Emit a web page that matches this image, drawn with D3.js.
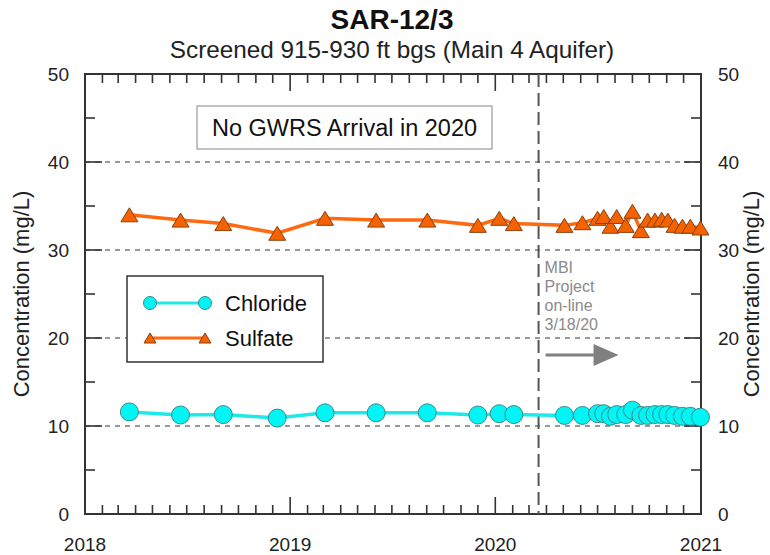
<!DOCTYPE html>
<html>
<head>
<meta charset="utf-8">
<script src="https://cdn.jsdelivr.net/npm/d3@7"></script>
<style>
  body { margin: 0; background: #fff; }
  svg { font-family: "Liberation Sans", Arial, sans-serif; }
</style>
</head>
<body>
<div id="plot"></div>
<script>
// sample dates
const sampleDates = [
  '2018-03-21', '2018-06-20', '2018-09-04', '2018-12-09', '2019-03-04',
  '2019-06-03', '2019-09-02', '2019-12-01', '2020-01-08', '2020-02-03',
  '2020-05-03', '2020-06-04', '2020-07-01', '2020-07-12', '2020-07-24',
  '2020-08-04', '2020-08-20', '2020-09-01', '2020-09-16', '2020-09-28',
  '2020-10-11', '2020-10-23', '2020-11-03', '2020-11-15', '2020-11-29',
  '2020-12-13', '2020-12-31'
];
const chloride = [
  11.6, 11.25, 11.3, 10.9, 11.5, 11.5, 11.5, 11.25, 11.4, 11.3,
  11.2, 11.2, 11.4, 11.4, 11.1, 11.3, 11.3, 11.8, 11.2, 11.2,
  11.3, 11.3, 11.3, 11.2, 11.1, 11.1, 11.0
];
const sulfate = [
  34.0, 33.4, 33.0, 31.9, 33.6, 33.4, 33.4, 32.8, 33.6, 33.0,
  32.8, 33.1, 33.6, 33.8, 32.7, 33.8, 32.8, 34.4, 32.2, 33.4,
  33.4, 33.5, 33.4, 32.8, 32.7, 32.7, 32.5
];
const yearTicks = ['2018', '2019', '2020', '2021'];
const concTicks = [0, 10, 20, 30, 40, 50];
const mbiDate = '2020-03-18';
const mbiLabel = ['MBI', 'Project', 'on-line', '3/18/20'];

const width = 770, height = 555;
const margin = {top: 74, right: 69, bottom: 41, left: 85};
const parse = d3.timeParse('%Y-%m-%d');

const svg = d3.select('#plot').append('svg')
    .attr('width', width)
    .attr('height', height);

const x = d3.scaleTime()
    .domain([new Date(2018, 0, 1), new Date(2021, 0, 1)])
    .range([margin.left, width - margin.right]);
const y = d3.scaleLinear()
    .domain([0, 50])
    .range([height - margin.bottom, margin.top]);

const x0 = x.range()[0], x1 = x.range()[1];
const y0 = y.range()[0], y1 = y.range()[1];

const chlData = sampleDates.map((d, i) => ({date: parse(d), value: chloride[i]}));
const sulData = sampleDates.map((d, i) => ({date: parse(d), value: sulfate[i]}));

// titles
svg.append('text')
    .attr('x', 392).attr('y', 29)
    .attr('text-anchor', 'middle')
    .attr('font-size', '28px').attr('font-weight', 'bold')
    .attr('fill', '#111')
    .text('SAR-12/3');
svg.append('text')
    .attr('x', 392).attr('y', 58)
    .attr('text-anchor', 'middle')
    .attr('font-size', '24.3px')
    .attr('fill', '#222')
    .text('Screened 915-930 ft bgs (Main 4 Aquifer)');

// grid lines
svg.append('g').selectAll('line')
    .data([10, 20, 30, 40])
    .join('line')
    .attr('x1', x0).attr('x2', x1)
    .attr('y1', d => y(d)).attr('y2', d => y(d))
    .attr('stroke', '#777').attr('stroke-width', 1.5)
    .attr('stroke-dasharray', '5,5');

// ticks: months on x, fives on y, all pointing inward
const months = x.ticks(d3.timeMonth.every(1));
const tickG = svg.append('g').attr('stroke', '#333').attr('stroke-width', 1.6);
months.forEach(m => {
    const len = m.getMonth() === 0 ? 17 : 9;
    const px = x(m);
    tickG.append('line').attr('x1', px).attr('x2', px).attr('y1', y0).attr('y2', y0 - len);
    tickG.append('line').attr('x1', px).attr('x2', px).attr('y1', y1).attr('y2', y1 + len);
});
d3.range(0, 51, 5).forEach(v => {
    const len = v % 10 === 0 ? 17 : 10;
    const py = y(v);
    tickG.append('line').attr('x1', x0).attr('x2', x0 + len).attr('y1', py).attr('y2', py);
    tickG.append('line').attr('x1', x1).attr('x2', x1 - len).attr('y1', py).attr('y2', py);
});

// frame
svg.append('rect')
    .attr('x', x0).attr('y', y1)
    .attr('width', x1 - x0).attr('height', y0 - y1)
    .attr('fill', 'none').attr('stroke', '#333').attr('stroke-width', 2);

// tick labels
svg.append('g').selectAll('text')
    .data(yearTicks)
    .join('text')
    .attr('x', d => x(parse(d + '-01-01')))
    .attr('y', 551)
    .attr('text-anchor', 'middle')
    .attr('font-size', '19px')
    .attr('fill', '#222')
    .text(d => d);
svg.append('g').selectAll('text')
    .data(concTicks)
    .join('text')
    .attr('x', x0 - 16)
    .attr('y', d => y(d) + 7)
    .attr('text-anchor', 'end')
    .attr('font-size', '19px')
    .attr('fill', '#222')
    .text(d => d);
svg.append('g').selectAll('text')
    .data(concTicks)
    .join('text')
    .attr('x', x1 + 17)
    .attr('y', d => y(d) + 7)
    .attr('text-anchor', 'start')
    .attr('font-size', '19px')
    .attr('fill', '#222')
    .text(d => d);

// axis titles
const midY = (y0 + y1) / 2;
svg.append('text')
    .attr('transform', `translate(29,${midY}) rotate(-90)`)
    .attr('text-anchor', 'middle')
    .attr('font-size', '22px')
    .attr('fill', '#222')
    .text('Concentration (mg/L)');
svg.append('text')
    .attr('transform', `translate(759,${midY}) rotate(-90)`)
    .attr('text-anchor', 'middle')
    .attr('font-size', '22px')
    .attr('fill', '#222')
    .text('Concentration (mg/L)');

// MBI project line, label and arrow
const mx = x(parse(mbiDate));
svg.append('line')
    .attr('x1', mx).attr('x2', mx).attr('y1', y1).attr('y2', y0)
    .attr('stroke', '#555').attr('stroke-width', 2)
    .attr('stroke-dasharray', '13,6');
svg.append('g').selectAll('text')
    .data(mbiLabel)
    .join('text')
    .attr('x', mx + 6)
    .attr('y', (d, i) => 273 + i * 19)
    .attr('font-size', '16px')
    .attr('fill', '#8a8a8a')
    .text(d => d);
svg.append('line')
    .attr('x1', mx + 7).attr('x2', mx + 58)
    .attr('y1', 355).attr('y2', 355)
    .attr('stroke', '#808080').attr('stroke-width', 3);
svg.append('path')
    .attr('d', `M${mx + 55},344 L${mx + 80},355 L${mx + 55},366 Z`)
    .attr('fill', '#808080');

// note box
svg.append('rect')
    .attr('x', 197).attr('y', 106)
    .attr('width', 295).attr('height', 43)
    .attr('fill', '#fff').attr('stroke', '#999').attr('stroke-width', 1.2);
svg.append('text')
    .attr('x', 344.5).attr('y', 136)
    .attr('text-anchor', 'middle')
    .attr('font-size', '23.5px')
    .attr('fill', '#111')
    .text('No GWRS Arrival in 2020');

// series
const line = d3.line().x(d => x(d.date)).y(d => y(d.value));
const triPath = (w, h) => `M0,${-h / 2} L${w / 2},${h / 2} L${-w / 2},${h / 2} Z`;

svg.append('path')
    .datum(chlData)
    .attr('d', line)
    .attr('fill', 'none')
    .attr('stroke', '#1fe8e8').attr('stroke-width', 3.5);
svg.append('g').selectAll('circle')
    .data(chlData)
    .join('circle')
    .attr('cx', d => x(d.date)).attr('cy', d => y(d.value))
    .attr('r', 9)
    .attr('fill', '#00f5f5')
    .attr('stroke', '#3a8a8a').attr('stroke-width', 1);

svg.append('path')
    .datum(sulData)
    .attr('d', line)
    .attr('fill', 'none')
    .attr('stroke', '#ff6a10').attr('stroke-width', 3.5);
svg.append('g').selectAll('path')
    .data(sulData)
    .join('path')
    .attr('transform', d => `translate(${x(d.date)},${y(d.value)})`)
    .attr('d', triPath(17, 14))
    .attr('fill', '#f56200')
    .attr('stroke', '#8a4010').attr('stroke-width', 1);

// legend
const legend = svg.append('g');
legend.append('rect')
    .attr('x', 127).attr('y', 276)
    .attr('width', 196).attr('height', 86)
    .attr('fill', '#fff').attr('stroke', '#333').attr('stroke-width', 1.5);
const legendItems = [
    {name: 'Chloride', color: '#1fe8e8', fill: '#00f5f5', stroke: '#3a8a8a', shape: 'circle'},
    {name: 'Sulfate', color: '#ff6a10', fill: '#f56200', stroke: '#8a4010', shape: 'tri'}
];
legendItems.forEach((it, i) => {
    const ly = 303 + i * 35;
    legend.append('line')
        .attr('x1', 150).attr('x2', 205).attr('y1', ly).attr('y2', ly)
        .attr('stroke', it.color).attr('stroke-width', 3);
    [150, 205].forEach(lx => {
        if (it.shape === 'circle') {
            legend.append('circle').attr('cx', lx).attr('cy', ly).attr('r', 6.5)
                .attr('fill', it.fill).attr('stroke', it.stroke);
        } else {
            legend.append('path').attr('transform', `translate(${lx},${ly})`)
                .attr('d', triPath(12, 10))
                .attr('fill', it.fill).attr('stroke', it.stroke);
        }
    });
    legend.append('text')
        .attr('x', 225).attr('y', ly + 8)
        .attr('font-size', '22px')
        .attr('fill', '#111')
        .text(it.name);
});
</script>
</body>
</html>
